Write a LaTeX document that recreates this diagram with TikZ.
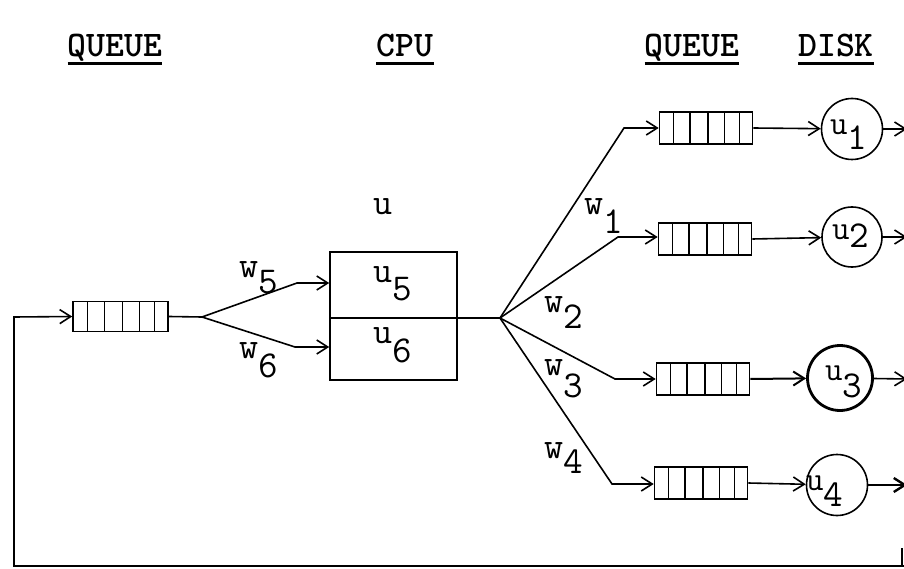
\documentclass[tikz,border=0pt]{standalone}
\usetikzlibrary{arrows.meta,calc}
\newcommand{\sublab}[3]{#1\raisebox{-#3}{\fontsize{38}{40}\selectfont #2}}
\begin{document}
\begin{tikzpicture}[x=1pt,y=-1pt,
  ln/.style={line width=1.6pt},
  arr/.style={ln,-{Straight Barb[length=11pt,width=14pt]}},
  queue/.style={draw,ln,minimum width=93pt,minimum height=32pt,inner sep=0pt,
    path picture={\foreach \f in {0.15,0.33,0.52,0.70,0.86}{
      \draw[line width=1.5pt] ($(path picture bounding box.south west)!\f!(path picture bounding box.south east)$) --
        ($(path picture bounding box.north west)!\f!(path picture bounding box.north east)$);}}},
  disk/.style={draw,ln,circle,minimum size=61pt,inner sep=0pt},
  hdr/.style={font=\fontsize{36}{40}\selectfont\ttfamily\bfseries,inner sep=0pt,anchor=base},
  lab/.style={font=\fontsize{37}{40}\selectfont\ttfamily,inner sep=0pt,anchor=base west},
  slab/.style={font=\fontsize{34}{36}\selectfont\ttfamily,inner sep=0pt,anchor=base west},
  uline/.style={line width=3pt}]
\useasboundingbox (0,0) rectangle (904,569);

% headers
\node[hdr] (h1) at (115,57) {QUEUE};
\node[hdr] (h2) at (405,57) {CPU};
\node[hdr] (h3) at (692,57) {QUEUE};
\node[hdr] (h4) at (836,57) {DISK};
\foreach \h in {h1,h2,h3,h4}
  \draw[uline] ([yshift=-7pt]\h.base west) -- ([yshift=-7pt]\h.base east);

% left queue and feedback loop
\node[queue,minimum width=95pt,minimum height=30pt] (q0) at (120.5,316.5) {};
\coordinate (in0) at (14,317);
\coordinate (bl) at (14,566);
\coordinate (br) at (906,566);
\coordinate (tk) at (902,548);
\draw[arr] (br) -- (bl) -- (in0) -- (q0.west);
\draw[ln] (tk) -- (tk |- br);

% split to CPU
\coordinate (sp) at (202,317);
\node[draw,ln,minimum width=127pt,minimum height=128pt,inner sep=0pt] (cpu) at (393.5,316) {};
\coordinate (b5) at (297,283);
\coordinate (b6) at (295,347);
\draw[ln] (q0.east) -- (sp);
\draw[arr] (sp) -- (b5) -- (b5 -| cpu.west);
\draw[arr] (sp) -- (b6) -- (b6 -| cpu.west);
\coordinate (fan) at (500,318);
\draw[ln] (fan -| cpu.west) -- (fan);

% disk queues
\node[queue] (q1) at (706,128) {};
\node[queue] (q2) at (705,239) {};
\node[queue] (q3) at (703,379) {};
\node[queue] (q4) at (701,483) {};
\coordinate (k1) at (624,128);
\coordinate (k2) at (618,237);
\coordinate (k3) at (615,379);
\coordinate (k4) at (612,484);
\draw[arr] (fan) -- (k1) -- (k1 -| q1.west);
\draw[arr] (fan) -- (k2) -- (k2 -| q2.west);
\draw[arr] (fan) -- (k3) -- (k3 -| q3.west);
\draw[arr] (fan) -- (k4) -- (k4 -| q4.west);

% disks
\node[disk] (u1) at (852,129) {};
\node[disk,minimum size=60pt] (u2) at (852,237) {};
\node[disk,minimum size=65pt,line width=2.8pt] (u3) at (840,378) {};
\node[disk] (u4) at (837,485) {};
\draw[arr] (q1.east) -- (u1);
\draw[arr] (q2.east) -- (u2);
\draw[arr,line width=2pt] (q3.east) -- (u3);
\draw[arr] (q4.east) -- (u4);
\coordinate (o1) at (907,129);
\coordinate (o2) at (907,237);
\coordinate (o3) at (907,379);
\coordinate (o4) at (907,485);
\draw[arr] (u1) -- (o1);
\draw[arr] (u2) -- (o2);
\draw[arr] (u3) -- (o3);
\draw[arr,line width=2.4pt] (u4) -- (o4);

% labels
\node[lab] (lu) at (373,215) {u};
\node[lab] (lu5) at (373,282) {\sublab{u}{5}{18pt}};
\node[lab] (lu6) at (373,343) {\sublab{u}{6}{19pt}};
\node[lab] (lw5) at (239,277) {\sublab{w}{5}{16pt}};
\node[lab] (lw6) at (239,358) {\sublab{w}{6}{19pt}};
\node[lab] (lw1) at (584,215) {\sublab{w}{1}{18pt}};
\node[lab] (lw2) at (544,312) {\sublab{w}{2}{16pt}};
\node[lab] (lw3) at (544,375) {\sublab{w}{3}{22pt}};
\node[lab] (lw4) at (544,458) {\sublab{w}{4}{15pt}};
\node[slab] (lu1) at (830,135) {\sublab{u}{1}{15pt}};
\node[slab] (lu2) at (832,240) {\sublab{u}{2}{8pt}};
\node[slab] (lu3) at (825,380) {\sublab{u}{3}{17pt}};
\node[slab] (lu4) at (806,490) {\sublab{u}{4}{16pt}};
\end{tikzpicture}
\end{document}
